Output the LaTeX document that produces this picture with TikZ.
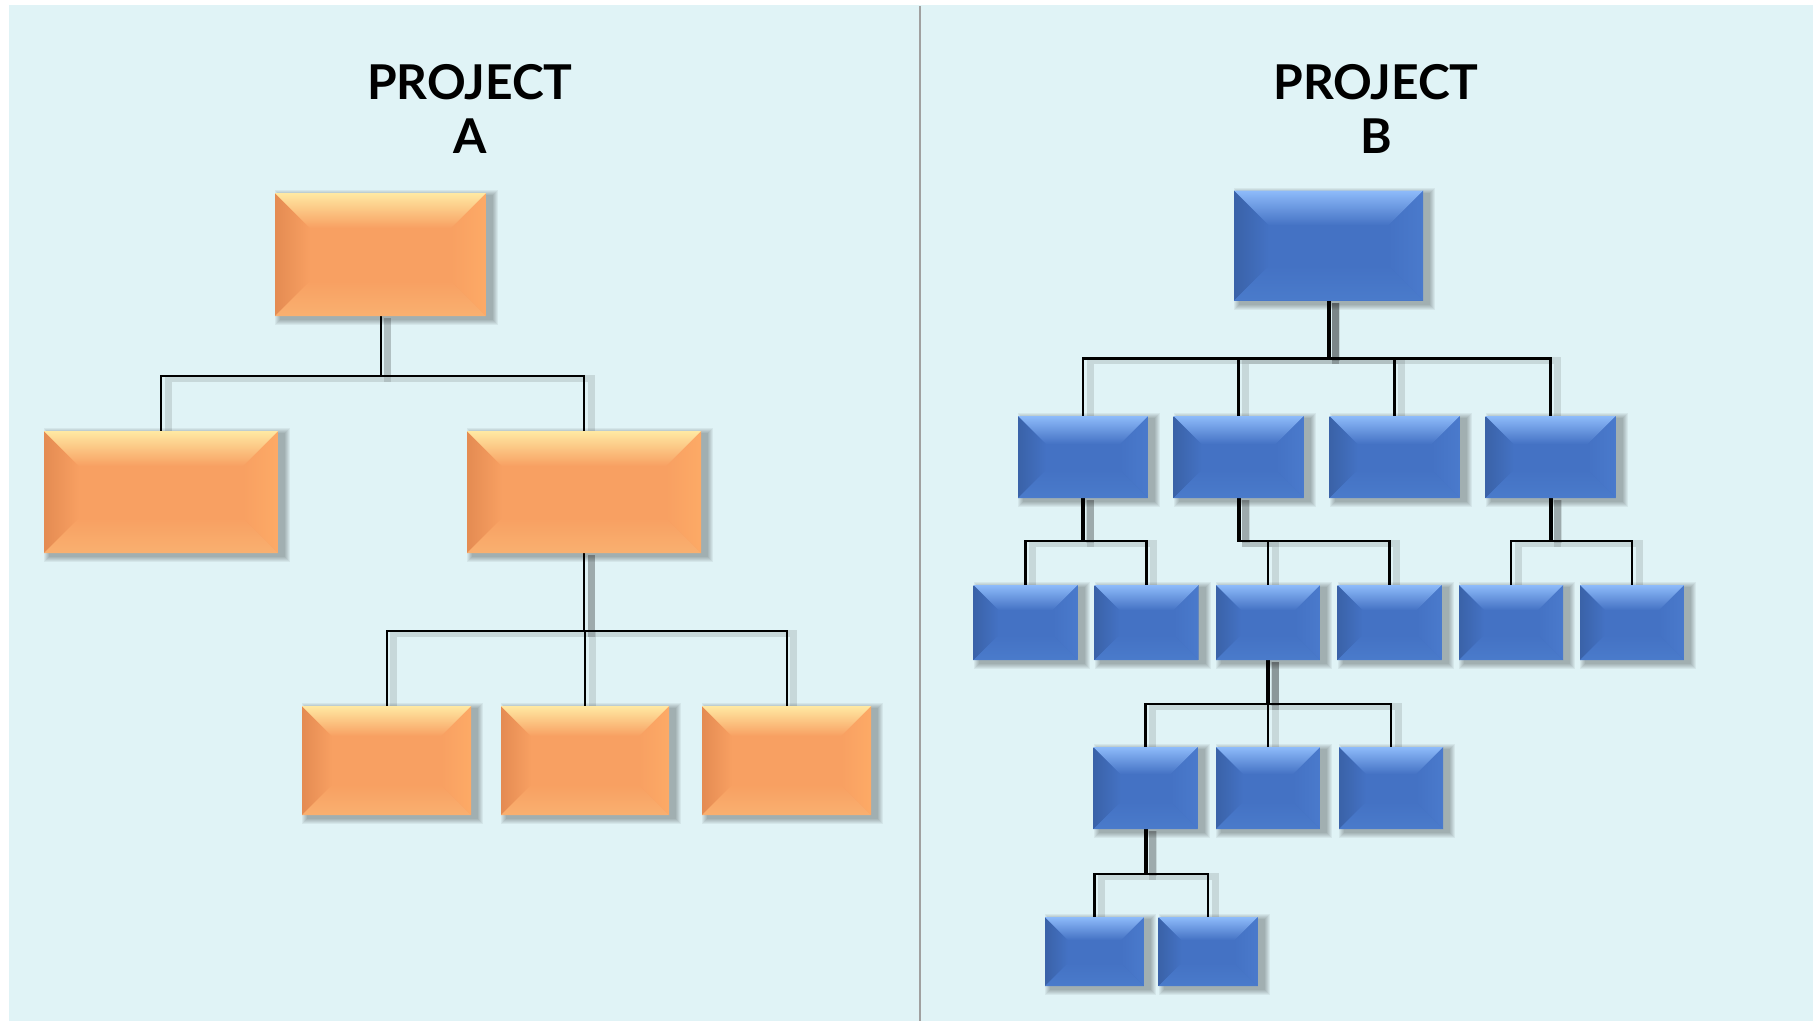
\documentclass[tikz,border=0pt]{standalone}
\usepackage{fontspec}
\setmainfont{Lato}
\usetikzlibrary{calc,backgrounds}

% palette
\definecolor{pagebg}{HTML}{E0F3F6}
\definecolor{divgray}{HTML}{A0A0A0}
\definecolor{orMain}{HTML}{F8A062}
\definecolor{orTop}{HTML}{FFE9A3}
\definecolor{orLeft}{HTML}{E48B52}
\definecolor{orRight}{HTML}{FDAA66}
\definecolor{orBot}{HTML}{F9B070}
\definecolor{buMain}{HTML}{4472C4}
\definecolor{buTop}{HTML}{8EBBFA}
\definecolor{buLeft}{HTML}{3A62A8}
\definecolor{buRight}{HTML}{4A7ACC}
\definecolor{buBot}{HTML}{4A7BCB}

% bevelled face: #1 centre, #2 top edge, #3 left edge, #4 right edge, #5 bottom edge, #6 bevel depth
\newcommand\bevelfaces[6]{%
  \path (path picture bounding box.north west) coordinate (q1)
        (path picture bounding box.north east) coordinate (q2)
        (path picture bounding box.south east) coordinate (q3)
        (path picture bounding box.south west) coordinate (q4);
  \path (q1) ++(#6pt,-#6pt) coordinate (r1)
        (q2) ++(-#6pt,-#6pt) coordinate (r2)
        (q3) ++(-#6pt,#6pt) coordinate (r3)
        (q4) ++(#6pt,#6pt) coordinate (r4);
  \fill[#1] (q1) rectangle (q3);
  \shade[left color=#3, right color=#1] (q1) -- (r1) -- (r4) -- (q4) -- cycle;
  \shade[left color=#1, right color=#4] (q2) -- (r2) -- (r3) -- (q3) -- cycle;
  \shade[top color=#2, middle color=#2!25!#1, bottom color=#1] (q1) -- (q2) -- (r2) -- (r1) -- cycle;
  \shade[top color=#1, middle color=#1, bottom color=#5] (q4) -- (q3) -- (r3) -- (r4) -- cycle;
}

% soft shadow below and to the right of a box
\newcommand\boxshadow[1]{%
  \foreach \k in {1,...,6}{%
    \fill[black, opacity=0.05]
      ($(#1.north west)+({6pt-\k*1pt},{-3pt+\k*1pt})$) rectangle
      ($(#1.south east)+({6pt+\k*1pt},{-3pt-\k*1pt})$);
  }%
}

\begin{document}
\begin{tikzpicture}[x=1pt,y=-1pt,
  sz/.style 2 args={minimum width=#1, minimum height=#2},
  obox/.style={rectangle, inner sep=0, outer sep=0,
    path picture={\bevelfaces{orMain}{orTop}{orLeft}{orRight}{orBot}{#1}}},
  bbox/.style={rectangle, inner sep=0, outer sep=0,
    path picture={\bevelfaces{buMain}{buTop}{buLeft}{buRight}{buBot}{#1}}},
  lshadow/.style={preaction={draw=black, draw opacity=0.11, line width=#1,
    transform canvas={xshift=7pt,yshift=-2pt}}},
  oconn/.style={draw=black, line width=2pt, lshadow=7pt},
  bconn/.style={draw=black, line width=2.6pt, lshadow=7pt},
  bstem/.style={draw=black, line width=4pt, lshadow=8pt},
  title/.style={font=\fontsize{48}{54}\selectfont\bfseries, align=center,
    inner sep=0, anchor=north, text=black}
]
\useasboundingbox (0,0) rectangle (1813,1021);

% ---- titles
\node[title] (tA) at (470,64) {PROJECT\\A};
\node[title] (tB) at (1376,64) {PROJECT\\B};

% ---- project A
\node[obox=35, sz={211}{123}] (A0) at (380.5,254.5) {};
\node[obox=35, sz={234}{122}] (A1) at (161,492) {};
\node[obox=35, sz={234}{122}] (A2) at (584,492) {};
\node[obox=30, sz={169}{109}] (A3) at (386.5,760.5) {};
\node[obox=30, sz={168}{109}] (A4) at (585,760.5) {};
\node[obox=30, sz={169}{109}] (A5) at (786.5,760.5) {};

% ---- project B
\node[bbox=35, sz={189}{110}] (B0) at (1328.5,245.5) {};
\node[bbox=28, sz={130}{82}] (B1) at (1083,457) {};
\node[bbox=28, sz={130}{82}] (B2) at (1238.5,457) {};
\node[bbox=28, sz={130}{82}] (B3) at (1394.5,457) {};
\node[bbox=28, sz={130}{82}] (B4) at (1550.5,457) {};
\node[bbox=25, sz={104}{75}] (C1) at (1025.5,622.5) {};
\node[bbox=25, sz={104}{75}] (C2) at (1146.5,622.5) {};
\node[bbox=25, sz={104}{75}] (C3) at (1268,622.5) {};
\node[bbox=25, sz={104}{75}] (C4) at (1389.5,622.5) {};
\node[bbox=25, sz={104}{75}] (C5) at (1511,622.5) {};
\node[bbox=25, sz={104}{75}] (C6) at (1632,622.5) {};
\node[bbox=27, sz={104}{82}] (D1) at (1145.5,788) {};
\node[bbox=27, sz={104}{82}] (D2) at (1268,788) {};
\node[bbox=27, sz={104}{82}] (D3) at (1391,788) {};
\node[bbox=23, sz={99}{69}] (E1) at (1094.5,951.5) {};
\node[bbox=23, sz={99}{69}] (E2) at (1208,951.5) {};

\begin{scope}[on background layer]
  % page
  \fill[white] (0,0) rectangle (1813,1021);
  \fill[pagebg] (9,5) rectangle (1813,1021);
  \draw[divgray, line width=2.5pt] (920,6) -- (920,1021);

  % box shadows
  \foreach \n in {A0,A1,A2,A3,A4,A5,B0,B1,B2,B3,B4,C1,C2,C3,C4,C5,C6,D1,D2,D3,E1,E2}
    {\boxshadow{\n}}

  % connectors, project A
  \draw[oconn] (A0.south) -- ++(0,60) -| (A1.north);
  \draw[oconn] (A0.south) -- ++(0,60) -| (A2.north);
  \draw[oconn] (A2.south) -- ++(0,78) -| (A3.north);
  \draw[oconn] (A2.south) -- ++(0,78) -| (A4.north);
  \draw[oconn] (A2.south) -- ++(0,78) -| (A5.north);

  % connectors, project B
  \draw[bconn] (B0.south) -- ++(0,58) -| (B1.north);
  \draw[bconn] (B0.south) -- ++(0,58) -| (B2.north);
  \draw[bconn] (B0.south) -- ++(0,58) -| (B3.north);
  \draw[bconn] (B0.south) -- ++(0,58) -| (B4.north);
  \draw[bstem] (B0.south) -- ++(0,58);

  \draw[bconn] (B1.south) -- ++(0,43) -| (C1.north);
  \draw[bconn] (B1.south) -- ++(0,43) -| (C2.north);
  \draw[bstem] (B1.south) -- ++(0,43);

  \draw[bconn] (B2.south) -- ++(0,43) -| (C3.north);
  \draw[bconn] (B2.south) -- ++(0,43) -| (C4.north);
  \draw[bstem] (B2.south) -- ++(0,43);

  \draw[bconn] (B4.south) -- ++(0,43) -| (C5.north);
  \draw[bconn] (B4.south) -- ++(0,43) -| (C6.north);
  \draw[bstem] (B4.south) -- ++(0,43);

  \draw[bconn] (C3.south) -- ++(0,44) -| (D1.north);
  \draw[bconn] (C3.south) -- ++(0,44) -| (D2.north);
  \draw[bconn] (C3.south) -- ++(0,44) -| (D3.north);
  \draw[bstem] (C3.south) -- ++(0,44);

  \draw[bconn] (D1.south) -- ++(0,45) -| (E1.north);
  \draw[bconn] (D1.south) -- ++(0,45) -| (E2.north);
  \draw[bstem] (D1.south) -- ++(0,45);
\end{scope}
\end{tikzpicture}
\end{document}
